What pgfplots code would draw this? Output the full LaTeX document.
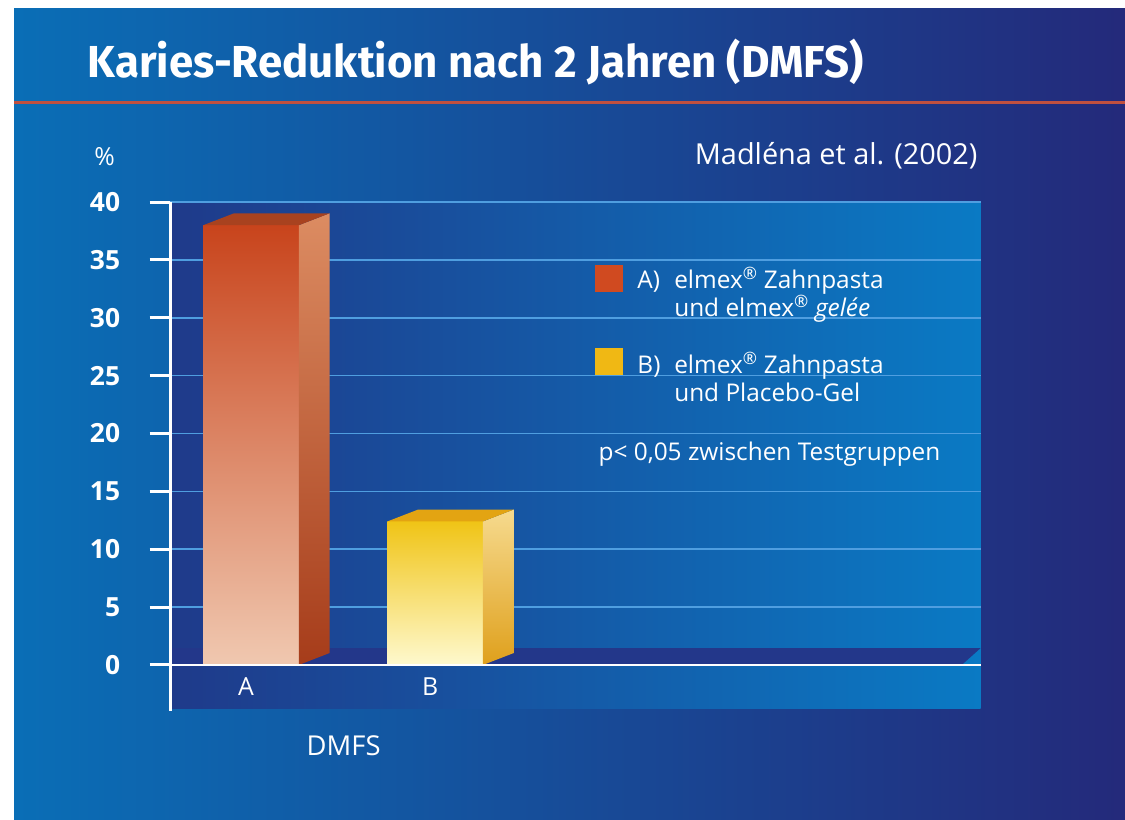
\documentclass[border=0pt]{standalone}
\usepackage{pgfplots}
\pgfplotsset{compat=1.18}
\usepackage{fontspec}
\setmainfont{Open Sans}
\newfontfamily\titlefont{Fira Sans}
\definecolor{bgL}{HTML}{0A6EB6}
\definecolor{bgR}{HTML}{24297A}
\definecolor{panL}{HTML}{1F3A8A}
\definecolor{panR}{HTML}{0A7AC4}
\definecolor{floorc}{HTML}{23378A}
\definecolor{gridc}{HTML}{4F9EE0}
\definecolor{redline}{HTML}{C0503F}
\definecolor{AfT}{HTML}{C8441C}
\definecolor{AfB}{HTML}{F0C8B0}
\definecolor{AsT}{HTML}{DC8C62}
\definecolor{AsB}{HTML}{A63C1A}
\definecolor{AtT}{HTML}{A8421F}
\definecolor{BfT}{HTML}{F0C416}
\definecolor{BfB}{HTML}{FEF9CE}
\definecolor{BsT}{HTML}{F6DA8E}
\definecolor{BsB}{HTML}{DFA01C}
\definecolor{BtT}{HTML}{E3A412}
\definecolor{legA}{HTML}{D04A20}
\definecolor{legB}{HTML}{F0B814}
\pgfdeclarelayer{background}
\pgfsetlayers{background,main}
\newlength\tw
\newcommand\titletext{\titlefont\fontsize{45}{45}\selectfont\bfseries Karies-Reduktion nach 2 Jahren (DMFS)}
\newcommand\legfont{\fontsize{24.5}{24.5}\selectfont}
\begin{document}
\settowidth\tw{\titletext}
\pgfmathsetmacro\sx{779pt/\tw}
\begin{tikzpicture}[x=1pt,y=1pt]
\begin{axis}[
  scale only axis, width=814pt, height=465pt,
  xmin=0.5622, xmax=4.9622, ymin=0, ymax=40,
  clip=false,
  axis line style={draw=none},
  ytick={0,5,...,40},
  xtick={1,2}, xticklabels={A,B},
  xtick style={draw=none},
  ytick pos=left, xtick pos=bottom,
  tick align=outside,
  major tick length=21pt,
  ytick style={white, line width=3pt},
  ymajorgrids,
  grid style={gridc, line width=1.5pt},
  yticklabel style={text=white, font=\fontsize{26.5}{26.5}\selectfont\bfseries, anchor=east, xshift=-26pt},
  xticklabel style={text=white, font=\fontsize{25}{25}\selectfont, yshift=12pt, xshift=-5pt},
  /pgf/number format/assume math mode=true,
]
\coordinate (O) at (axis cs:0.5622,0);
% bar A
\addplot[ybar, bar width=0.519, bar shift=0pt, draw=none, top color=AfT, bottom color=AfB] coordinates {(1,38)};
\addplot[draw=none, top color=AsT, bottom color=AsB] coordinates {(1.2595,0) (1.4271,1.032) (1.4271,39.032) (1.2595,38)} -- cycle;
\addplot[draw=none, fill=AtT] coordinates {(0.7405,38) (1.2595,38) (1.4271,39.032) (0.9081,39.032)} -- cycle;
% bar B
\addplot[ybar, bar width=0.519, bar shift=0pt, draw=none, top color=BfT, bottom color=BfB] coordinates {(2,12.4)};
\addplot[draw=none, top color=BsT, bottom color=BsB] coordinates {(2.2595,0) (2.4271,1.032) (2.4271,13.432) (2.2595,12.4)} -- cycle;
\addplot[draw=none, fill=BtT] coordinates {(1.7405,12.4) (2.2595,12.4) (2.4271,13.432) (1.9081,13.432)} -- cycle;
\draw[white, line width=2.5pt] (axis cs:0.5622,0) -- (axis cs:4.9622,0);
\draw[white, line width=3pt] (axis cs:0.5622,40) -- (axis cs:0.5622,-3.96);
\end{axis}
\begin{scope}[shift={(O)}, xshift=-166pt, yshift=-155pt]
\begin{pgfonlayer}{background}
\path[fill=white] (-10,-10) rectangle (1135,833);
\shade[left color=bgL, right color=bgR] (9,-10) rectangle (1135,814);
\draw[redline, line width=3pt] (9,720) -- (1135,720);
\shade[left color=panL, right color=panR] (166,111) rectangle (980,620);
\fill[floorc] (166,172) -- (980,172) -- (961,155) -- (166,155) -- cycle;
\end{pgfonlayer}
\node[anchor=base west, inner sep=0pt, text=white] at (83,745) {\scalebox{\sx}[1]{\titletext}};
\node[anchor=base, text=white, font=\fontsize{27.5}{27.5}\selectfont] at (340,64) {DMFS};
\node[anchor=base, text=white, font=\fontsize{25}{25}\selectfont] at (100,657) {\%};
\node[anchor=base east, inner sep=0pt, text=white, font=\fontsize{29}{29}\selectfont] at (977,658) {Madléna et al. (2002)};
\fill[legA] (593,557) rectangle (621,530);
\fill[legB] (593,473) rectangle (621,446);
\node[anchor=base west, inner sep=0pt, text=white, font=\legfont] at (635,533) {A)};
\node[anchor=base west, inner sep=0pt, text=white, font=\legfont] at (672,533) {elmex\textsuperscript{®} Zahnpasta};
\node[anchor=base west, inner sep=0pt, text=white, font=\legfont] at (672,505) {und elmex\textsuperscript{®} \textit{gelée}};
\node[anchor=base west, inner sep=0pt, text=white, font=\legfont] at (635,448) {B)};
\node[anchor=base west, inner sep=0pt, text=white, font=\legfont] at (672,448) {elmex\textsuperscript{®} Zahnpasta};
\node[anchor=base west, inner sep=0pt, text=white, font=\legfont] at (672,420) {und Placebo-Gel};
\node[anchor=base west, inner sep=0pt, text=white, font=\legfont] at (596,360) {p< 0,05 zwischen Testgruppen};
\pgfresetboundingbox
\useasboundingbox (0,0) rectangle (1125,823);
\end{scope}
\end{tikzpicture}
\end{document}
